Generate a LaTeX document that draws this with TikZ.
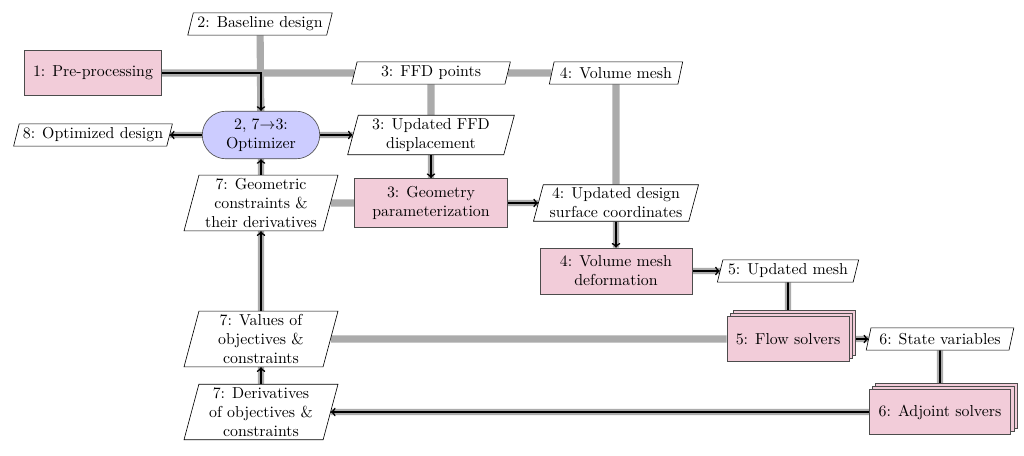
\documentclass[tikz,border=0pt]{standalone}
\usetikzlibrary{shapes.geometric,shadows,backgrounds}

\tikzset{
  datanode/.style={trapezium, trapezium left angle=75, trapezium right angle=105,
    trapezium stretches body, draw, fill=white, align=center, inner sep=2pt, minimum height=14pt},
  funcnode/.style={rectangle, draw=black!70, fill=purple!20, align=center, inner sep=5pt, minimum height=28pt},
  optnode/.style={rectangle, rounded corners=15pt, draw=black!70, fill=blue!20, align=center, inner sep=4pt,
    minimum width=74pt, minimum height=30pt},
  stacknode/.style={funcnode, double copy shadow={shadow xshift=2pt, shadow yshift=2pt}},
  dataline/.style={black!33, line width=4.5pt},
  procline/.style={black, line width=1pt, preaction={draw, black!33, line width=4pt, -}},
}

\begin{document}
\begin{tikzpicture}[x=0.63pt, y=-0.63pt]
    \useasboundingbox (0,0) rectangle (1024,455);

    % tools and data
    \node[datanode, minimum width=91pt] (base) at (260,24) {2: Baseline design};
    \node[funcnode, minimum width=86pt] (pre) at (93,73) {1: Pre-processing};
    \node[datanode, minimum width=100pt] (ffd) at (431,73) {3: FFD points};
    \node[datanode, minimum width=84pt] (vmesh) at (616,73) {4: Volume mesh};
    \node[datanode, minimum width=100pt] (optdes) at (93,135) {8: Optimized design};
    \node[optnode] (opt) at (261,135) {2, 7$\rightarrow$3:\\Optimizer};
    \node[datanode, minimum width=105pt] (upffd) at (431,135) {3: Updated FFD\\displacement};
    \node[datanode, minimum width=97pt] (geocon) at (261,203) {7: Geometric\\constraints \&\\their derivatives};
    \node[funcnode, minimum width=96pt] (geom) at (431,203) {3: Geometry\\parameterization};
    \node[datanode, minimum width=104pt] (upsurf) at (616,203) {4: Updated design\\surface coordinates};
    \node[funcnode, minimum width=96pt] (vdef) at (616,271) {4: Volume mesh\\deformation};
    \node[datanode, minimum width=89pt] (upmesh) at (788,271) {5: Updated mesh};
    \node[datanode, minimum width=97pt] (values) at (261,339) {7: Values of\\objectives \&\\constraints};
    \node[stacknode, minimum width=77pt] (flow) at (788,339) {5: Flow solvers};
    \node[datanode, minimum width=93pt] (state) at (940,339) {6: State variables};
    \node[stacknode, minimum width=89pt] (adj) at (940,412) {6: Adjoint solvers};
    \node[datanode, minimum width=97pt] (deriv) at (261,412) {7: Derivatives\\of objectives \&\\constraints};

    \begin{scope}[on background layer]
        % data lines
        \draw [dataline] (base) -- (opt);
        \draw [dataline] (pre) -- (ffd);
        \draw [dataline] (ffd) -- (vmesh);
        \draw [dataline] (ffd) -- (upffd);
        \draw [dataline] (vmesh) -- (upsurf);
        \draw [dataline] (geocon) -- (geom);
        \draw [dataline] (values) -- (flow);

        % process
        \draw [procline, ->] (pre.east) -| (opt.north);
        \draw [procline, ->] (opt) -- (optdes);
        \draw [procline, ->] (opt) -- (upffd);
        \draw [procline, ->] (upffd) -- (geom);
        \draw [procline, ->] (geom) -- (upsurf);
        \draw [procline, ->] (upsurf) -- (vdef);
        \draw [procline, ->] (vdef) -- (upmesh);
        \draw [procline] (upmesh) -- (flow);
        \draw [procline, ->] (flow) -- (state);
        \draw [procline] (state) -- (adj);
        \draw [procline, ->] (adj) -- (deriv);
        \draw [procline, ->] (deriv) -- (values);
        \draw [procline, ->] (values) -- (geocon);
        \draw [procline, ->] (geocon) -- (opt);
    \end{scope}
\end{tikzpicture}
\end{document}
